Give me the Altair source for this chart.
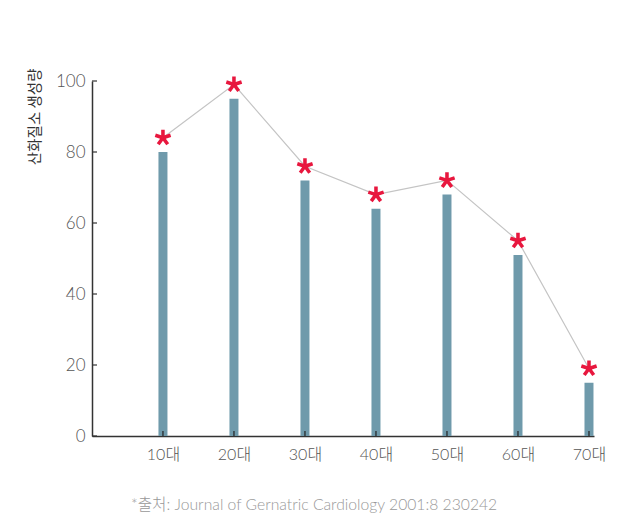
import math
import altair as alt
import pandas as pd

# ---- data ----
ages = ["10대", "20대", "30대", "40대", "50대", "60대", "70대"]
bar_values = [80, 95, 72, 64, 68, 51, 15]
star_values = [84, 99, 76, 68, 72, 55, 19]
y_ticks = [0, 20, 40, 60, 80, 100]
y_title = "산화질소 생성량"
source_text = "*출처: Journal of Gernatric Cardiology 2001:8 230242"

df = pd.DataFrame({"age": ages, "bar": bar_values, "star": star_values})
tick_df = pd.DataFrame({"v": y_ticks})

# five-armed asterisk symbol (unit box -1..1)
def asterisk_path(n=5, w=0.22, L=1.0):
    parts = []
    for i in range(n):
        t = math.radians(-90 + 360 * i / n)
        dx, dy = math.cos(t), math.sin(t)
        px, py = -dy, dx
        pts = [(w * px, w * py), (L * dx + w * px, L * dy + w * py),
               (L * dx - w * px, L * dy - w * py), (-w * px, -w * py)]
        parts.append("M" + "L".join(f"{x:.3f},{y:.3f}" for x, y in pts) + "Z")
    return "".join(parts)

W, H = 502, 355
FONT = "Lato, Noto Sans CJK KR, sans-serif"

xscale = alt.Scale(type="point", domain=ages, padding=0.535, align=0.934)
yscale = alt.Scale(domain=[0, 100], nice=False)

x_enc = alt.X("age:N", scale=xscale, sort=ages,
              axis=alt.Axis(title=None, ticks=False, labelPadding=10, labelAngle=0,
                            labelFont=FONT, labelFontSize=16, labelColor="#555555",
                            labelFontWeight=300, domainColor="#333333", domainWidth=1.5))

bars = alt.Chart(df).mark_bar(size=9, color="#6f9aab").encode(
    x=x_enc,
    y=alt.Y("bar:Q", scale=yscale,
            axis=alt.Axis(values=y_ticks, ticks=False, grid=False, labelPadding=7,
                          labelFont=FONT, labelFontSize=17, labelColor="#555555",
                          labelFontWeight=300, domainColor="#333333", domainWidth=1.5,
                          title=y_title, titleFont="Noto Sans CJK KR", titleFontSize=14.5,
                          titleFontWeight=400, titleColor="#333333", titleAngle=270,
                          titleAlign="right", titleBaseline="middle",
                          titleX=-57, titleY=-13)),
)

line = alt.Chart(df).mark_line(color="#c4c4c4", strokeWidth=1.2).encode(
    x=alt.X("age:N", scale=xscale, sort=ages),
    y=alt.Y("star:Q", scale=yscale),
)

stars = alt.Chart(df).mark_point(shape=asterisk_path(), size=260, filled=True,
                                 color="#e8173e", opacity=1, strokeWidth=0).encode(
    x=alt.X("age:N", scale=xscale, sort=ages),
    y=alt.Y("star:Q", scale=yscale),
)

xticks = alt.Chart(df).mark_rule(color="#222222", strokeWidth=1.2).encode(
    x=alt.X("age:N", scale=xscale, sort=ages),
    y=alt.value(H),
    y2=alt.value(H - 5),
)

yticks = alt.Chart(tick_df).mark_rule(color="#333333", strokeWidth=1.2).encode(
    y=alt.Y("v:Q", scale=yscale),
    x=alt.value(0),
    x2=alt.value(5),
)

chart = alt.layer(bars, line, stars, xticks, yticks).properties(
    width=W,
    height=H,
    autosize=alt.AutoSizeParams(type="none"),
    padding={"left": 84, "top": 73, "right": 37, "bottom": 87},
    title=alt.TitleParams(source_text, orient="bottom", anchor="start", dx=104,
                          offset=36, font=FONT, fontSize=15.7, fontWeight=300,
                          color="#999999"),
).configure(background="white").configure_view(stroke=None)

chart.save("out.html", embed_options={"renderer": "svg", "actions": False})
